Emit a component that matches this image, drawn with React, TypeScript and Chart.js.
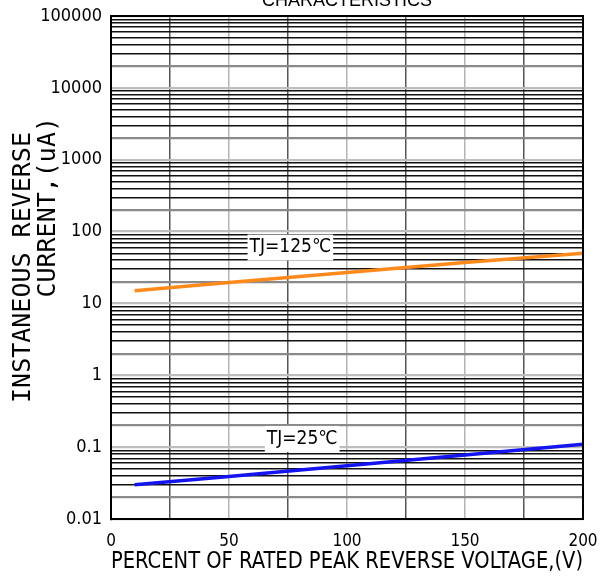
import { useEffect, useRef } from 'react';
import { Chart, registerables } from 'chart.js';

Chart.register(...registerables);

const voltagePercent = [10, 50, 100, 150, 200];
const current125 = [15, 19.5, 27, 37, 50];
const current25 = [0.03, 0.039, 0.055, 0.078, 0.11];
const seriesNames = ['TJ=125℃', 'TJ=25℃'];
const seriesColors = ['#ff8a1c', '#1414f0'];
const noteX = [76, 81];
const noteY = [60, 0.13];
const xTickLabels = ['0', '', '50', '', '100', '', '150', '', '200'];
const yDecades = [0.01, 0.1, 1, 10, 100, 1000, 10000, 100000];
const yTickLabels = ['0.01', '0.1', '1', '10', '100', '1000', '10000', '100000'];
const titleText = 'CHARACTERISTICS';
const xTitle = 'PERCENT OF RATED PEAK REVERSE VOLTAGE,(V)';
const yTitle = ['INSTANEOUS REVERSE', '        CURRENT,(uA)'];

const narrow = '"DejaVu Sans Condensed", "Liberation Sans", sans-serif';

function mantissa(v: number) {
  const e = Math.floor(Math.log10(v) + 1e-9);
  return Math.round(v / Math.pow(10, e));
}

const notesPlugin = {
  id: 'notes',
  afterDatasetsDraw(chart: any) {
    const { ctx, scales } = chart;
    ctx.save();
    ctx.font = `19px ${narrow}`;
    ctx.textAlign = 'center';
    ctx.textBaseline = 'middle';
    seriesNames.forEach((t, i) => {
      const px = scales.x.getPixelForValue(noteX[i]);
      const py = scales.y.getPixelForValue(noteY[i]);
      const w = ctx.measureText(t).width;
      ctx.fillStyle = '#fff';
      ctx.fillRect(px - w / 2 - 2, py - 13, w + 4, 26);
      ctx.fillStyle = '#000';
      ctx.fillText(t, px, py);
    });
    ctx.restore();
  },
};

const framePlugin = {
  id: 'frame',
  afterDraw(chart: any) {
    const { ctx, chartArea: a } = chart;
    ctx.save();
    ctx.strokeStyle = '#000';
    ctx.lineWidth = 2;
    ctx.strokeRect(a.left, a.top, a.right - a.left, a.bottom - a.top);
    ctx.restore();
  },
};

export default function App() {
  const ref = useRef<HTMLCanvasElement | null>(null);
  useEffect(() => {
    if (!ref.current) return;
    const chart = new Chart(ref.current, {
      type: 'line',
      data: {
        labels: voltagePercent,
        datasets: [
          {
            label: seriesNames[0],
            data: voltagePercent.map((x, i) => ({ x, y: current125[i] })),
            borderColor: seriesColors[0],
            borderWidth: 3.5,
            pointRadius: 0,
            tension: 0,
          },
          {
            label: seriesNames[1],
            data: voltagePercent.map((x, i) => ({ x, y: current25[i] })),
            borderColor: seriesColors[1],
            borderWidth: 3.5,
            pointRadius: 0,
            tension: 0,
          },
        ],
      },
      options: {
        animation: false,
        responsive: true,
        maintainAspectRatio: false,
        layout: { padding: { left: 0, right: 23, top: 0, bottom: 0 } },
        plugins: {
          legend: { display: false },
          tooltip: { enabled: false },
          title: {
            display: true,
            text: titleText,
            fullSize: false,
            color: '#000',
            font: { family: '"Liberation Sans", Arial, sans-serif', size: 18, weight: 'normal', lineHeight: 1.2 },
            padding: { top: 10, bottom: 4.4 },
          },
        },
        scales: {
          x: {
            type: 'linear',
            min: 0,
            max: 200,
            afterFit(s: any) {
              s.height = 64;
              s.paddingRight = 0;
              s.paddingLeft = 0;
            },
            border: { display: true, color: '#000', width: 2 },
            grid: {
              drawTicks: false,
              color: (c: any) => {
                const v = c.tick ? c.tick.value : 0;
                return v % 50 === 0 ? '#b4b4b4' : '#555';
              },
              lineWidth: 1.5,
            },
            ticks: {
              stepSize: 25,
              autoSkip: false,
              maxRotation: 0,
              padding: 12,
              color: '#000',
              font: { family: narrow, size: 17 },
              callback: (v: any) => {
                const i = Math.round(Number(v) / 25);
                return xTickLabels[i] ?? '';
              },
            },
            title: {
              display: true,
              text: xTitle,
              color: '#000',
              font: { family: narrow, size: 23.5, lineHeight: 1.1 },
              padding: { top: 0, bottom: 8 },
            },
          },
          y: {
            type: 'logarithmic',
            min: yDecades[0],
            max: yDecades[yDecades.length - 1],
            afterFit(s: any) { s.width = 111; },
            afterBuildTicks(s: any) {
              const t: any[] = [];
              for (let i = 0; i < yDecades.length - 1; i++) {
                for (let m = 1; m <= 9; m++) t.push({ value: m * yDecades[i] });
              }
              t.push({ value: yDecades[yDecades.length - 1] });
              s.ticks = t;
            },
            border: { display: true, color: '#000', width: 2 },
            grid: {
              drawTicks: false,
              color: (c: any) => {
                const v = c.tick ? c.tick.value : 1;
                const m = mantissa(v);
                if (m === 1) return '#bdbdbd';
                if (m === 2) return '#8a8a8a';
                return '#111';
              },
              lineWidth: (c: any) => {
                const v = c.tick ? c.tick.value : 1;
                const m = mantissa(v);
                return m <= 2 ? 2.2 : 1.4;
              },
            },
            ticks: {
              autoSkip: false,
              padding: 9,
              color: '#000',
              font: { family: narrow, size: 18 },
              callback: (v: any) => {
                const n = Number(v);
                const i = yDecades.findIndex((d) => Math.abs(n / d - 1) < 1e-6);
                return i >= 0 ? yTickLabels[i] : '';
              },
            },
            title: {
              display: true,
              text: yTitle,
              color: '#000',
              font: { family: '"DejaVu Sans Mono", monospace', size: 25, lineHeight: 1.0 },
              padding: { top: 11, bottom: 0 },
            },
          },
        },
      },
      plugins: [notesPlugin, framePlugin],
    });
    return () => chart.destroy();
  }, []);
  return (
    <div style={{ position: 'absolute', left: 0, top: -20, width: 606, height: 603 }}>
      <canvas ref={ref} />
    </div>
  );
}
